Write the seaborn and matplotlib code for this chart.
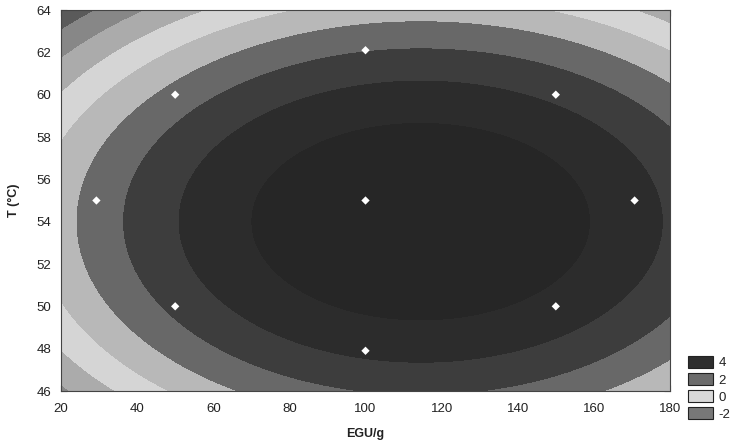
import numpy as np
import pandas as pd
import matplotlib
matplotlib.use("Agg")
import matplotlib.pyplot as plt
from matplotlib.patches import Patch
import seaborn as sns

# Central composite design: enzyme dose (EGU/g) and temperature (°C)
design_egu = [29.3, 50, 50, 100, 100, 100, 150, 150, 170.7]
design_temp = [55.0, 50, 60, 47.9, 55.0, 62.1, 50, 60, 55.0]

# Second-order response-surface model coefficients
b0 = -131.014
b_egu = 0.111165
b_temp = 4.8
b_egu2 = -4.8544e-4
b_temp2 = -0.044444

# Contour levels and fill greys (low -> high)
contour_levels = [-6, -3, -2, -1, 0, 1, 2, 3, 4, 6]
band_greys = ["#5a5a5a", "#878787", "#ababab", "#d5d5d5", "#b8b8b8",
              "#686868", "#3d3d3d", "#2c2c2c", "#262626"]

# Legend entries
legend_labels = ["4", "2", "0", "-2"]
legend_greys = ["#2e2e2e", "#6c6c6c", "#d8d8d8", "#787878"]

x_ticks = [20, 40, 60, 80, 100, 120, 140, 160, 180]
y_ticks = [46, 48, 50, 52, 54, 56, 58, 60, 62, 64]

sns.set_theme(style="white")
plt.rcParams["font.family"] = ["Liberation Sans", "DejaVu Sans"]

fig = plt.figure(figsize=(7.47, 4.45), dpi=100)
ax = fig.add_axes([61 / 747, 1 - 391 / 445, (670 - 61) / 747, (391 - 10) / 445])

egu = np.linspace(20, 180, 400)
temp = np.linspace(46, 64, 300)
EG, TT = np.meshgrid(egu, temp)
Z = b0 + b_egu * EG + b_temp * TT + b_egu2 * EG ** 2 + b_temp2 * TT ** 2
cs = ax.contourf(EG, TT, Z, levels=contour_levels, colors=band_greys)
cs.set_edgecolor("face")
cs.set_linewidth(0.4)

points = pd.DataFrame({"EGU/g": design_egu, "T (°C)": design_temp})
sns.scatterplot(data=points, x="EGU/g", y="T (°C)", ax=ax, marker="D",
                s=18, color="white", edgecolor="none", zorder=5)

ax.set_xlim(20, 180)
ax.set_ylim(46, 64)
ax.set_xticks(x_ticks)
ax.set_yticks(y_ticks)
ax.tick_params(direction="in", length=4, width=0.8, color="#333333",
               top=True, right=True, bottom=True, left=True,
               labelsize=9.5, labelcolor="#222222")
ax.tick_params(axis="x", pad=9)
ax.tick_params(axis="y", pad=7)
for s in ax.spines.values():
    s.set_color("#444444")
    s.set_linewidth(0.8)

ax.set_xlabel("EGU/g", fontsize=9, fontweight="bold", color="#222222", labelpad=9)
ax.set_ylabel("T (°C)", fontsize=9, fontweight="bold", color="#222222", labelpad=12)

handles = [Patch(facecolor=c, edgecolor="#222222", linewidth=0.8) for c in legend_greys]
fig.legend(handles, legend_labels, loc="upper left",
           bbox_to_anchor=(688 / 747, 1 - 356 / 445), frameon=False,
           fontsize=9.5, handlelength=1.9, handleheight=1.0,
           labelspacing=0.28, handletextpad=0.4, borderpad=0, borderaxespad=0,
           labelcolor="#222222")

fig.savefig("out.png", dpi=100)
